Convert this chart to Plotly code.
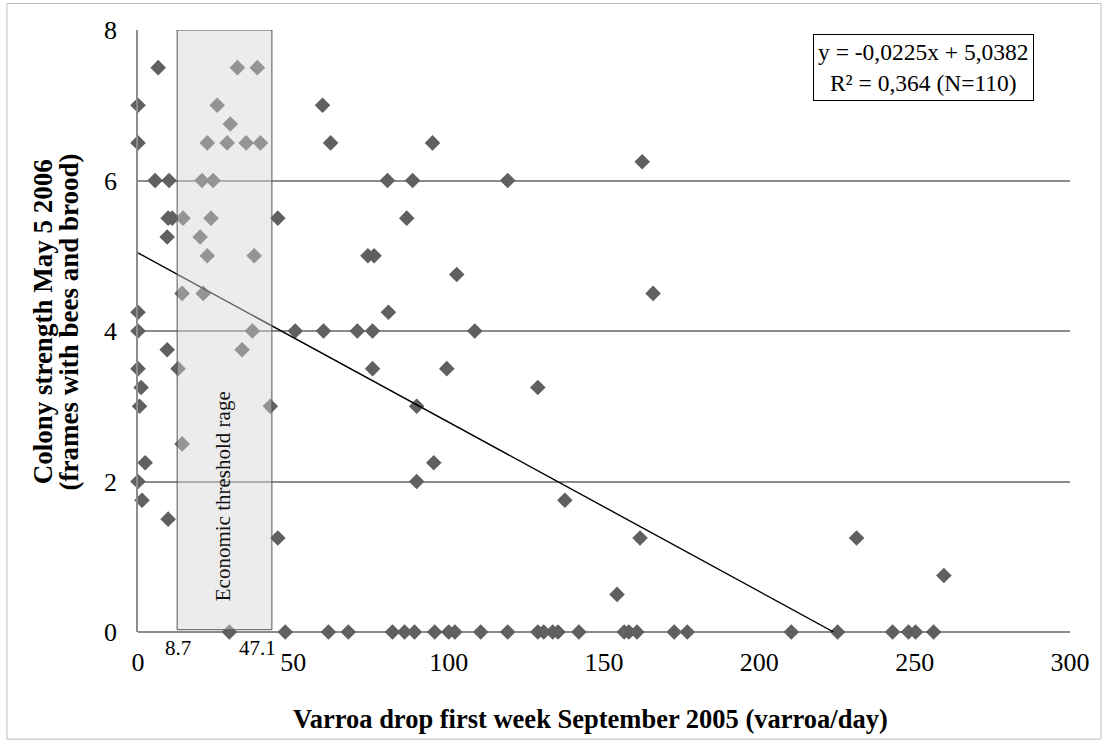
import plotly.graph_objects as go

# ---- data ----
varroa_drop = [
    0, 0, 0, 0, 0, 1, 0.5, 0, 1.3, 2.3,
    6.5, 5.5, 10, 9.7, 11, 9.4, 9.4, 12.9, 9.7,
    32, 38.4, 25.5, 29.7, 22.3, 28.7, 34.8, 39.4, 20.6, 24.2,
    14.5, 23.5, 20, 22.3, 37.4, 14.2, 21, 36.8, 33.5, 42.6, 14.2, 29.4,
    45, 45, 47.4, 59.4, 62, 94.8, 80.3, 88.4, 119, 86.5,
    74, 76, 102.6, 80.6, 50.6, 59.7, 70.6, 75.5, 108.4, 75.5,
    99.4, 128.7, 89.7, 95.2, 89.7, 137.4, 161.6, 154.2, 162.3, 165.8,
    231.3, 259.4,
    61.3, 67.7, 81.9, 85.8, 89, 95.5, 100, 102, 110.3, 119,
    128.7, 130.6, 133.5, 135.2, 141.9, 156.5, 158, 160.6, 172.6, 176.8,
    210.3, 225.2, 242.9, 248, 250.3, 256.1,
]
colony_strength = [
    7, 6.5, 4.25, 4, 3.5, 3.25, 3, 2, 1.75, 2.25,
    7.5, 6, 6, 5.5, 5.5, 5.25, 3.75, 3.5, 1.5,
    7.5, 7.5, 7, 6.75, 6.5, 6.5, 6.5, 6.5, 6, 6,
    5.5, 5.5, 5.25, 5, 5, 4.5, 4.5, 4, 3.75, 3, 2.5, 0,
    5.5, 1.25, 0, 7, 6.5, 6.5, 6, 6, 6, 5.5,
    5, 5, 4.75, 4.25, 4, 4, 4, 4, 4, 3.5,
    3.5, 3.25, 3, 2.25, 2, 1.75, 1.25, 0.5, 6.25, 4.5,
    1.25, 0.75,
    0, 0, 0, 0, 0, 0, 0, 0, 0, 0,
    0, 0, 0, 0, 0, 0, 0, 0, 0, 0,
    0, 0, 0, 0, 0, 0,
]
x_ticks = [0, 50, 100, 150, 200, 250, 300]
y_ticks = [0, 2, 4, 6, 8]
slope = -0.0225
intercept = 5.0382
threshold_labels = ["8.7", "47.1"]

# ---- style / layout constants ----
FONT = "Liberation Serif, Times New Roman, serif"
MARK = "#606060"
GRID = "#8c8c8c"
RECT_X0, RECT_X1 = 12.6, 43.1

x_end = -intercept / slope
fig = go.Figure()
fig.add_trace(go.Scatter(
    x=varroa_drop, y=colony_strength, mode="markers",
    marker=dict(symbol="diamond", size=12, color=MARK, line=dict(width=0)),
    showlegend=False, hoverinfo="x+y", cliponaxis=False,
))
fig.add_trace(go.Scatter(
    x=[0, x_end], y=[intercept, intercept + slope * x_end], mode="lines",
    line=dict(color="black", width=1.4), showlegend=False, hoverinfo="skip",
))

# shaded threshold range (drawn over the points, semi-transparent)
fig.add_shape(type="rect", xref="x", yref="y", x0=RECT_X0, x1=RECT_X1, y0=0.03, y1=8,
              fillcolor="rgba(212,212,212,0.45)", line=dict(color="#555555", width=1),
              layer="above")
fig.add_annotation(x=(RECT_X0 + RECT_X1) / 2 - 0.6, y=1.8, xref="x", yref="y",
                   text="Economic threshold rage", textangle=-90, showarrow=False,
                   font=dict(family=FONT, size=21, color="#111111"))
fig.add_annotation(x=12.9, y=-0.027, xref="x", yref="paper", text=threshold_labels[0],
                   showarrow=False, yanchor="middle",
                   font=dict(family=FONT, size=21, color="black"))
fig.add_annotation(x=38.4, y=-0.027, xref="x", yref="paper", text=threshold_labels[1],
                   showarrow=False, yanchor="middle",
                   font=dict(family=FONT, size=21, color="black"))

# equation box
fig.add_annotation(x=0.843, y=0.937, xref="paper", yref="paper",
                   text="y = -0,0225x + 5,0382<br>R² = 0,364 (N=110)",
                   showarrow=False, align="center", xanchor="center", yanchor="middle",
                   bordercolor="black", borderwidth=1, borderpad=4, bgcolor="white",
                   font=dict(family=FONT, size=23.5, color="black"))

# y-axis title (two lines)
fig.add_annotation(x=-0.1015, y=0.515, xref="paper", yref="paper",
                   text="<b>Colony strength May 5 2006</b>", textangle=-90, showarrow=False,
                   xanchor="center", yanchor="middle",
                   font=dict(family=FONT, size=27, color="black"))
fig.add_annotation(x=-0.0745, y=0.515, xref="paper", yref="paper",
                   text="<b>(frames with bees and brood)</b>", textangle=-90, showarrow=False,
                   xanchor="center", yanchor="middle",
                   font=dict(family=FONT, size=27, color="black"))

# x-axis title
fig.add_annotation(x=0.485, y=-0.1438, xref="paper", yref="paper",
                   text="<b>Varroa drop first week September 2005 (varroa/day)</b>",
                   showarrow=False, xanchor="center", yanchor="middle",
                   font=dict(family=FONT, size=26.5, color="black"))

# outer chart border
fig.add_shape(type="rect", xref="paper", yref="paper", x0=-0.1406, x1=1.0333,
              y0=-0.178, y1=1.044, line=dict(color="#bdbdbd", width=1), layer="below")

fig.update_layout(
    width=1110, height=740,
    margin=dict(l=138, r=40, t=30, b=108),
    paper_bgcolor="white", plot_bgcolor="white",
    font=dict(family=FONT, size=26, color="black"),
    xaxis=dict(
        range=[0, 300], tickvals=x_ticks, showgrid=False, zeroline=False,
        showline=False, ticks="outside", ticklen=7, tickcolor="rgba(0,0,0,0)",
        tickfont=dict(family=FONT, size=26, color="black"),
    ),
    yaxis=dict(
        range=[0, 8], tickvals=y_ticks, showgrid=True, gridcolor=GRID, gridwidth=1.5,
        zeroline=True, zerolinecolor=GRID, zerolinewidth=2,
        showline=True, linecolor=GRID, linewidth=1.5,
        ticks="outside", ticklen=14, tickcolor="rgba(0,0,0,0)",
        tickfont=dict(family=FONT, size=26, color="black"),
    ),
)

fig.write_html("out.html", config={"displayModeBar": False},
               post_script="document.body.style.margin='0px';")
